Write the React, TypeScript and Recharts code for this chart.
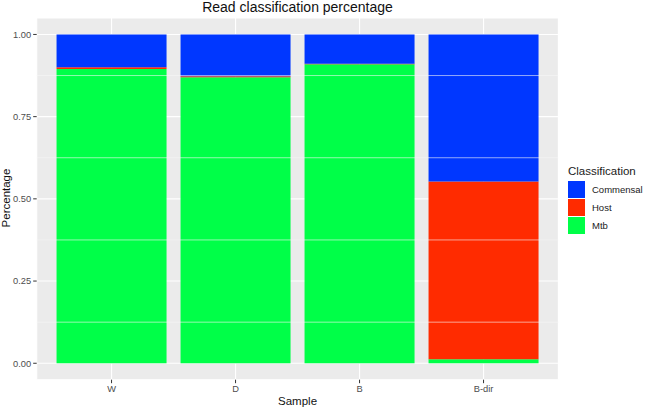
import React from "react";
import { BarChart, Bar, XAxis, YAxis, CartesianGrid, ReferenceLine } from "recharts";

const samples = ["W", "D", "B", "B-dir"];
const commensal = [0.1, 0.127, 0.089, 0.447];
const host = [0.005, 0.003, 0.002, 0.541];
const mtb = [0.895, 0.87, 0.909, 0.012];
const yTicks = [0, 0.25, 0.5, 0.75, 1];
const yMinor = [0.125, 0.375, 0.625, 0.875];

const COLORS = { Commensal: "#0037FF", Host: "#FF2B00", Mtb: "#00FF48" };
const FONT = "'Liberation Sans', Arial, sans-serif";

const data = samples.map((s, i) => ({
  s, Commensal: commensal[i], Host: host[i], Mtb: mtb[i],
}));

const tickStyle = { fontSize: 9.3, fill: "#4D4D4D", fontFamily: FONT };

// panel edges in px
const PANEL_L = 36.7;
const PANEL_R = 558.4;

function LegendBox() {
  const keys = ["Commensal", "Host", "Mtb"] as const;
  return (
    <div style={{ position: "absolute", left: 568, top: 163, fontFamily: FONT, color: "#1A1A1A" }}>
      <div style={{ fontSize: 11.5, height: 17, lineHeight: "16px" }}>Classification</div>
      {keys.map((k) => (
        <div key={k} style={{ display: "flex", alignItems: "center", height: 18 }}>
          <div style={{ width: 17, height: 17, background: COLORS[k], marginRight: 7 }} />
          <span style={{ fontSize: 9.5 }}>{k}</span>
        </div>
      ))}
    </div>
  );
}

export default function App() {
  return (
    <div style={{ position: "absolute", left: 0, top: 0, width: 645, height: 409, background: "#fff", overflow: "hidden" }}>
      <BarChart
        width={645}
        height={409}
        data={data}
        margin={{ top: 18, right: 645 - PANEL_R, bottom: 0, left: 0 }}
        barCategoryGap={7}
      >
        <CartesianGrid fill="#EBEBEB" stroke="#FFFFFF" strokeWidth={1.1} />
        {yMinor.map((v) => (
          <ReferenceLine key={v} y={v} stroke="#F7F7F7" strokeWidth={0.6} />
        ))}
        <XAxis
          dataKey="s"
          padding={{ left: 12.85, right: 12.85 }}
          axisLine={false}
          tickLine={{ stroke: "#333" }}
          tickSize={3.5}
          tick={tickStyle}
          height={29.3}
          interval={0}
        />
        <YAxis
          type="number"
          domain={[-0.05, 1.05]}
          ticks={yTicks}
          allowDataOverflow
          tickFormatter={(v: number) => v.toFixed(2)}
          axisLine={false}
          tickLine={{ stroke: "#333" }}
          tickSize={3.5}
          tick={tickStyle}
          width={PANEL_L}
        />
        <Bar dataKey="Mtb" stackId="a" fill={COLORS.Mtb} isAnimationActive={false} />
        <Bar dataKey="Host" stackId="a" fill={COLORS.Host} isAnimationActive={false} />
        <Bar dataKey="Commensal" stackId="a" fill={COLORS.Commensal} isAnimationActive={false} />
      </BarChart>
      <LegendBox />
      <div style={{ position: "absolute", left: PANEL_L, width: PANEL_R - PANEL_L, top: -1, textAlign: "center", fontFamily: FONT, fontSize: 14, lineHeight: "16px", color: "#111" }}>
        Read classification percentage
      </div>
      <div style={{ position: "absolute", left: PANEL_L, width: PANEL_R - PANEL_L, top: 395, textAlign: "center", fontFamily: FONT, fontSize: 11.5, color: "#111" }}>
        Sample
      </div>
      <div style={{ position: "absolute", left: 6, top: 198, transform: "translate(-50%, -50%) rotate(-90deg)", fontFamily: FONT, fontSize: 11.5, color: "#111", whiteSpace: "nowrap" }}>
        Percentage
      </div>
    </div>
  );
}
